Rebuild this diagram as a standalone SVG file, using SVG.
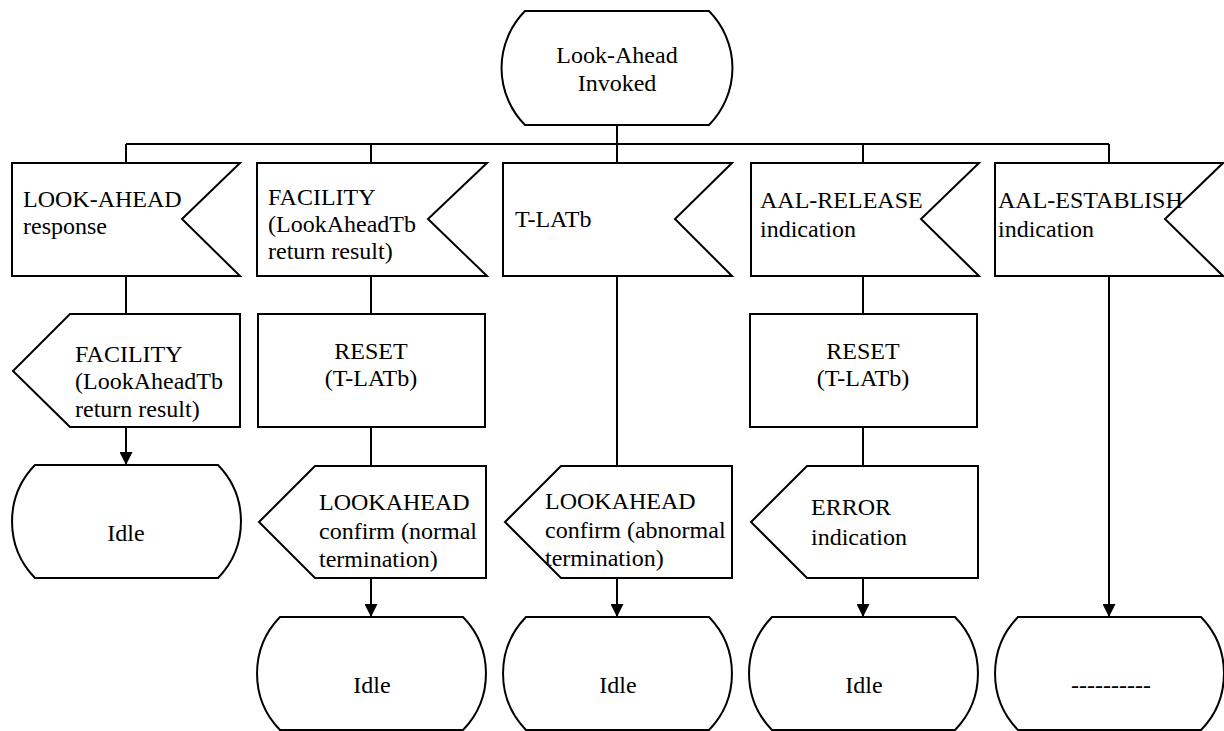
<svg xmlns="http://www.w3.org/2000/svg" width="1224" height="731" viewBox="0 0 1224 731">
<style>
.s{fill:#fff;stroke:#000;stroke-width:2;stroke-linejoin:miter}
.c{fill:none;stroke:#000;stroke-width:2}
text{font-family:"Liberation Serif","Times New Roman",serif;font-size:24px;fill:#000}
.m{text-anchor:middle}
</style>
<defs>
<marker id="ah" markerUnits="userSpaceOnUse" markerWidth="12" markerHeight="13" refX="13" refY="6.5" orient="auto">
<path d="M0,0 L13,6.5 L0,13 z" fill="#000"/>
</marker>
</defs>
<g id="connectors">
<path class="c" d="M617,125 V144 M126,144 H1109 M126,144 V163 M371,144 V163 M617,144 V163 M863,144 V163 M1109,144 V163"/>
<path class="c" d="M126,276 V314 M371,276 V314 M371,427 V466 M617,276 V466 M863,276 V314 M863,427 V466"/>
<path class="c" d="M126,427 V465" marker-end="url(#ah)"/>
<path class="c" d="M371,578 V617" marker-end="url(#ah)"/>
<path class="c" d="M617,578 V617" marker-end="url(#ah)"/>
<path class="c" d="M863,578 V617" marker-end="url(#ah)"/>
<path class="c" d="M1109,276 V617" marker-end="url(#ah)"/>
</g>
<g id="start">
<path class="s" d="M525,11 H709 A81,81 0 0 1 709,125 H525 A81,81 0 0 1 525,11 Z"/>
<text class="m" x="617" y="63">Look-Ahead</text>
<text class="m" x="617" y="91">Invoked</text>
</g>
<g id="in1">
<path class="s" d="M12,163 H240 L182,219 L240,276 H12 Z"/>
<text x="23" y="207">LOOK-AHEAD</text>
<text x="23" y="234">response</text>
</g>
<g id="in2">
<path class="s" d="M257,163 H487 L428,219 L487,276 H257 Z"/>
<text x="268" y="205">FACILITY</text>
<text x="268" y="232">(LookAheadTb</text>
<text x="268" y="259">return result)</text>
</g>
<g id="in3">
<path class="s" d="M503,163 H732 L675,219 L732,276 H503 Z"/>
<text x="515" y="227">T-LATb</text>
</g>
<g id="in4">
<path class="s" d="M751,163 H979 L921,219 L979,276 H751 Z"/>
<text x="760" y="208">AAL-RELEASE</text>
<text x="760" y="237">indication</text>
</g>
<g id="in5">
<path class="s" d="M995,163 H1223 L1165,219 L1223,276 H995 Z"/>
<text x="998" y="208">AAL-ESTABLISH</text>
<text x="998" y="237">indication</text>
</g>
<g id="out1">
<path class="s" d="M70,314 H240 V427 H70 L13,371 Z"/>
<text x="75" y="362">FACILITY</text>
<text x="75" y="389">(LookAheadTb</text>
<text x="75" y="417">return result)</text>
</g>
<g id="task2">
<rect class="s" x="258" y="314" width="227" height="113"/>
<text class="m" x="371" y="359">RESET</text>
<text class="m" x="371" y="386">(T-LATb)</text>
</g>
<g id="task4">
<rect class="s" x="750" y="314" width="227" height="113"/>
<text class="m" x="863" y="359">RESET</text>
<text class="m" x="863" y="386">(T-LATb)</text>
</g>
<g id="out2">
<path class="s" d="M315,466 H486 V578 H315 L259,522 Z"/>
<text x="319" y="510">LOOKAHEAD</text>
<text x="319" y="539">confirm (normal</text>
<text x="319" y="567">termination)</text>
</g>
<g id="out3">
<path class="s" d="M561,466 H732 V578 H561 L505,522 Z"/>
<text x="545" y="509">LOOKAHEAD</text>
<text x="545" y="538">confirm (abnormal</text>
<text x="545" y="566">termination)</text>
</g>
<g id="out4">
<path class="s" d="M807,466 H978 V578 H807 L751,522 Z"/>
<text x="811" y="515">ERROR</text>
<text x="811" y="545">indication</text>
</g>
<g id="idle1">
<path class="s" d="M35,465 H218 A81,81 0 0 1 218,578 H35 A81,81 0 0 1 35,465 Z"/>
<text class="m" x="126" y="541">Idle</text>
</g>
<g id="idle2">
<path class="s" d="M280,617 H463 A81,81 0 0 1 463,730 H280 A81,81 0 0 1 280,617 Z"/>
<text class="m" x="372" y="693">Idle</text>
</g>
<g id="idle3">
<path class="s" d="M526,617 H709 A81,81 0 0 1 709,730 H526 A81,81 0 0 1 526,617 Z"/>
<text class="m" x="618" y="693">Idle</text>
</g>
<g id="idle4">
<path class="s" d="M772,617 H955 A81,81 0 0 1 955,730 H772 A81,81 0 0 1 772,617 Z"/>
<text class="m" x="864" y="693">Idle</text>
</g>
<g id="next5">
<path class="s" d="M1018,617 H1201 A81,81 0 0 1 1201,730 H1018 A81,81 0 0 1 1018,617 Z"/>
<text class="m" x="1111" y="693">----------</text>
</g>
</svg>
